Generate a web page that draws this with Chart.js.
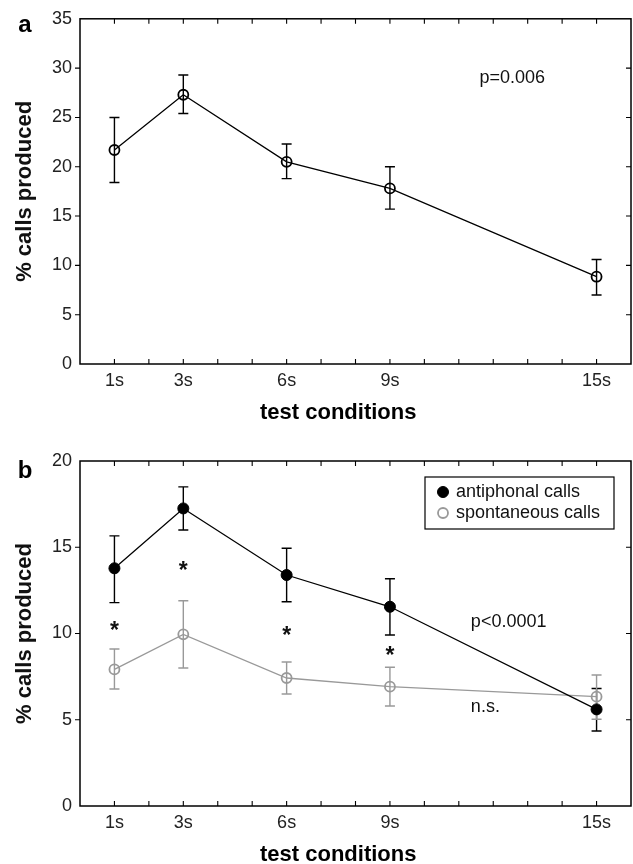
<!DOCTYPE html>
<html>
<head>
<meta charset="utf-8">
<script src="https://cdn.jsdelivr.net/npm/chart.js@4/dist/chart.umd.min.js"></script>
<style>
  html, body { margin: 0; padding: 0; background: #fff; }
  body { width: 633px; height: 864px; position: relative; overflow: hidden; }
  canvas { position: absolute; left: 0; }
</style>
</head>
<body>
<canvas id="chartA" width="633" height="432" style="top:0px"></canvas>
<canvas id="chartB" width="633" height="424" style="top:440px"></canvas>
<script>
// ---------- data ----------
const conditionSeconds = [1, 3, 6, 9, 15];
const conditionLabels = ['1s', '3s', '6s', '9s', '15s'];

// panel a: all calls
const allCallsMean  = [21.7, 27.3, 20.5, 17.8, 8.85];
const allCallsUpper = [25.0, 29.3, 22.3, 20.0, 10.6];
const allCallsLower = [18.4, 25.4, 18.8, 15.7, 7.0];

// panel b: antiphonal vs spontaneous
const antiphonalMean  = [13.78, 17.25, 13.39, 11.55, 5.6];
const antiphonalUpper = [15.66, 18.5, 14.94, 13.17, 6.81];
const antiphonalLower = [11.79, 16.0, 11.84, 9.91, 4.35];

const spontaneousMean  = [7.92, 9.95, 7.42, 6.92, 6.34];
const spontaneousUpper = [9.1, 11.9, 8.35, 8.04, 7.59];
const spontaneousLower = [6.78, 8.0, 6.49, 5.8, 5.03];

// significance markers (panel b)
const asteriskX = [1, 3, 6, 9];
const asteriskY = [10.4, 13.87, 10.1, 8.94];

// annotation texts
const notesA = [{ text: 'p=0.006', x: 11.6, y: 29.0 }];
const notesB = [{ text: 'p<0.0001', x: 11.35, y: 10.68 }, { text: 'n.s.', x: 11.35, y: 5.76 }];

// ---------- helpers ----------
const FONT = '"Liberation Sans", Arial, Helvetica, sans-serif';
const toPoints = (vals) => conditionSeconds.map((s, i) => ({ x: s, y: vals[i] }));

const framePlugin = {
  id: 'frame',
  beforeDatasetsDraw(chart) {
    const { ctx, scales: { x, y } } = chart;
    ctx.save();
    chart.data.datasets.forEach((ds) => {
      if (!ds.errUpper) return;
      ctx.strokeStyle = ds.borderColor;
      ctx.lineWidth = 1.4;
      ds.data.forEach((p, i) => {
        const px = x.getPixelForValue(p.x);
        const yt = y.getPixelForValue(ds.errUpper[i]);
        const yb = y.getPixelForValue(ds.errLower[i]);
        ctx.beginPath();
        ctx.moveTo(px, yt); ctx.lineTo(px, yb);
        ctx.moveTo(px - 5, yt); ctx.lineTo(px + 5, yt);
        ctx.moveTo(px - 5, yb); ctx.lineTo(px + 5, yb);
        ctx.stroke();
      });
    });
    ctx.restore();
  },
  afterDraw(chart) {
    const { ctx, chartArea: a, scales: { x, y } } = chart;
    const cfg = chart.options.plugins.frame;
    ctx.save();
    // box
    ctx.strokeStyle = '#000';
    ctx.lineWidth = 1.5;
    ctx.strokeRect(a.left, a.top, a.right - a.left, a.bottom - a.top);
    // x ticks (inward, top and bottom)
    ctx.lineWidth = 1.1;
    ctx.beginPath();
    x.ticks.forEach((t) => {
      if (t.value <= x.min || t.value >= x.max) return;
      const px = x.getPixelForValue(t.value);
      ctx.moveTo(px, a.bottom); ctx.lineTo(px, a.bottom - 5);
      ctx.moveTo(px, a.top); ctx.lineTo(px, a.top + 5);
    });
    // y ticks (outward left, inward right)
    y.ticks.forEach((t) => {
      if (t.value <= y.min || t.value >= y.max) return;
      const py = y.getPixelForValue(t.value);
      ctx.moveTo(a.left, py); ctx.lineTo(a.left - 5, py);
      ctx.moveTo(a.right, py); ctx.lineTo(a.right - 5, py);
    });
    ctx.stroke();

    // notes
    ctx.fillStyle = '#111';
    ctx.font = '18px ' + FONT;
    ctx.textAlign = 'left';
    ctx.textBaseline = 'middle';
    (cfg.notes || []).forEach((n) => {
      ctx.fillText(n.text, x.getPixelForValue(n.x), y.getPixelForValue(n.y));
    });
    // asterisks
    if (cfg.stars) {
      ctx.textAlign = 'center';
      ctx.font = 'bold 23px ' + FONT;
      cfg.stars.x.forEach((sx, i) => {
        ctx.fillText('*', x.getPixelForValue(sx), y.getPixelForValue(cfg.stars.y[i]) + 5);
      });
    }
    // panel letter
    ctx.font = 'bold 24px ' + FONT;
    ctx.textAlign = 'center';
    ctx.textBaseline = 'alphabetic';
    ctx.fillStyle = '#000';
    ctx.fillText(cfg.letter, 25, cfg.letterY);
    // x title
    ctx.font = 'bold 22px ' + FONT;
    ctx.textAlign = 'left';
    ctx.fillText('test conditions', 260, cfg.titleY);

    // legend
    if (cfg.legend) {
      const lw = 189, lh = 52;
      const lx = a.right - 17 - lw, ly = a.top + 16;
      ctx.fillStyle = '#fff';
      ctx.fillRect(lx, ly, lw, lh);
      ctx.strokeStyle = '#000';
      ctx.lineWidth = 1.2;
      ctx.strokeRect(lx, ly, lw, lh);
      ctx.font = '18px ' + FONT;
      ctx.textBaseline = 'middle';
      ctx.textAlign = 'left';
      chart.data.datasets.forEach((ds, i) => {
        const cy = ly + 15 + i * 21;
        const cx = lx + 18;
        ctx.beginPath();
        ctx.arc(cx, cy, ds.pointRadius, 0, Math.PI * 2);
        if (ds.pointBackgroundColor !== 'rgba(0,0,0,0)') {
          ctx.fillStyle = ds.pointBackgroundColor; ctx.fill();
        }
        ctx.strokeStyle = ds.pointBorderColor;
        ctx.lineWidth = ds.pointBorderWidth;
        ctx.stroke();
        ctx.fillStyle = '#111';
        ctx.fillText(ds.label, lx + 31, cy);
      });
    }
    ctx.restore();
  }
};

function makeOptions(yMax, padTop, xHeight, frameCfg) {
  return {
    responsive: false,
    animation: false,
    layout: { autoPadding: false, padding: { top: padTop, right: 2, left: 0, bottom: 0 } },
    plugins: { legend: { display: false }, tooltip: { enabled: false }, frame: frameCfg },
    scales: {
      x: {
        type: 'linear', min: 0, max: 16,
        grid: { display: false, drawTicks: false },
        border: { display: false },
        afterFit(s) { s.height = xHeight; s.paddingRight = 0; s.paddingLeft = 0; },
        ticks: {
          stepSize: 1, autoSkip: false, maxRotation: 0, padding: 6,
          color: '#222', font: { family: FONT, size: 18 },
          callback(v) {
            const i = conditionSeconds.indexOf(v);
            return i >= 0 ? conditionLabels[i] : '';
          }
        }
      },
      y: {
        min: 0, max: yMax,
        grid: { display: false, drawTicks: false },
        border: { display: false },
        afterFit(s) { s.width = 80; },
        ticks: { stepSize: 5, padding: 8, color: '#222', font: { family: FONT, size: 18 } },
        title: {
          display: true, text: '% calls produced', color: '#111',
          font: { family: FONT, size: 22, weight: 'bold' },
          padding: { top: 12, bottom: 0 }
        }
      }
    }
  };
}

new Chart(document.getElementById('chartA'), {
  type: 'line',
  data: {
    datasets: [{
      label: 'all calls',
      data: toPoints(allCallsMean),
      errUpper: allCallsUpper, errLower: allCallsLower,
      borderColor: '#000', borderWidth: 1.3, tension: 0,
      pointRadius: 5, pointBorderWidth: 1.8,
      pointBorderColor: '#000', pointBackgroundColor: 'rgba(0,0,0,0)'
    }]
  },
  options: makeOptions(35, 16, 68, { letter: 'a', letterY: 32, titleY: 419, notes: notesA }),
  plugins: [framePlugin]
});

new Chart(document.getElementById('chartB'), {
  type: 'line',
  data: {
    datasets: [{
      label: 'antiphonal calls',
      data: toPoints(antiphonalMean),
      errUpper: antiphonalUpper, errLower: antiphonalLower,
      borderColor: '#000', borderWidth: 1.3, tension: 0,
      pointRadius: 5.5, pointBorderWidth: 1,
      pointBorderColor: '#000', pointBackgroundColor: '#000'
    }, {
      label: 'spontaneous calls',
      data: toPoints(spontaneousMean),
      errUpper: spontaneousUpper, errLower: spontaneousLower,
      borderColor: '#999', borderWidth: 1.3, tension: 0,
      pointRadius: 5, pointBorderWidth: 1.8,
      pointBorderColor: '#999', pointBackgroundColor: 'rgba(0,0,0,0)'
    }]
  },
  options: makeOptions(20, 21, 58, {
    letter: 'b', letterY: 38, titleY: 421, notes: notesB,
    stars: { x: asteriskX, y: asteriskY }, legend: true
  }),
  plugins: [framePlugin]
});
</script>
</body>
</html>
